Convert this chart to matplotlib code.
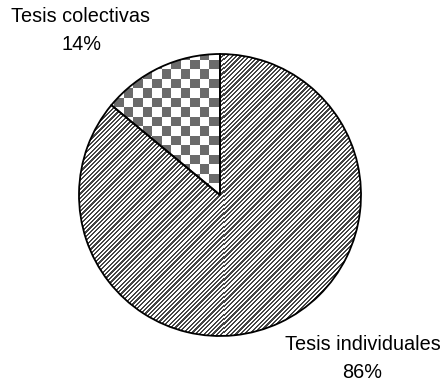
import numpy as np
import matplotlib
matplotlib.use("Agg")
import matplotlib.pyplot as plt

labels = ["Tesis individuales", "Tesis colectivas"]
shares = [86, 14]

W, H = 444, 383
plt.rcParams['font.family'] = ['Liberation Sans', 'DejaVu Sans']

fig = plt.figure(figsize=(W / 100, H / 100), dpi=100)
ax = fig.add_axes([0, 0, 1, 1])
ax.set_xlim(0, W)
ax.set_ylim(0, H)
ax.axis('off')

# pie in pixel coordinates, colectivas starts at the top going counterclockwise
wedges, _ = ax.pie(shares[::-1], startangle=90, counterclock=True,
                   center=(220, H - 195), radius=141,
                   colors=['white', 'white'],
                   wedgeprops=dict(edgecolor='black', linewidth=1.3))
ax.set_xlim(0, W)
ax.set_ylim(0, H)
ax.set_aspect('auto')

# fill patterns
yy, xx = np.mgrid[0:H, 0:W]
checker = ((xx // 9.5 + yy // 9.5) % 2).astype(bool)
img_check = np.ones((H, W, 3))
img_check[checker] = 0.42
stripes = ((xx - yy) % 4.4) < 2.2
img_str = np.ones((H, W, 3))
img_str[stripes] = 0.27

for w, img in zip(wedges, [img_check, img_str]):
    im = ax.imshow(img, origin='lower', extent=(0, W, 0, H),
                   interpolation='nearest', zorder=w.get_zorder() + 0.5)
    im.set_clip_path(w)
    w.set_zorder(w.get_zorder() + 1)
    w.set_facecolor('none')

fs = 14.3
ax.text(80, H - 16, labels[1], ha='center', va='center', fontsize=fs)
ax.text(81, H - 45, f"{shares[1]}%", ha='center', va='center', fontsize=fs)
ax.text(363, H - 344, labels[0], ha='center', va='center', fontsize=fs)
ax.text(362, H - 372, f"{shares[0]}%", ha='center', va='center', fontsize=fs)

fig.savefig("out.png", dpi=100)
